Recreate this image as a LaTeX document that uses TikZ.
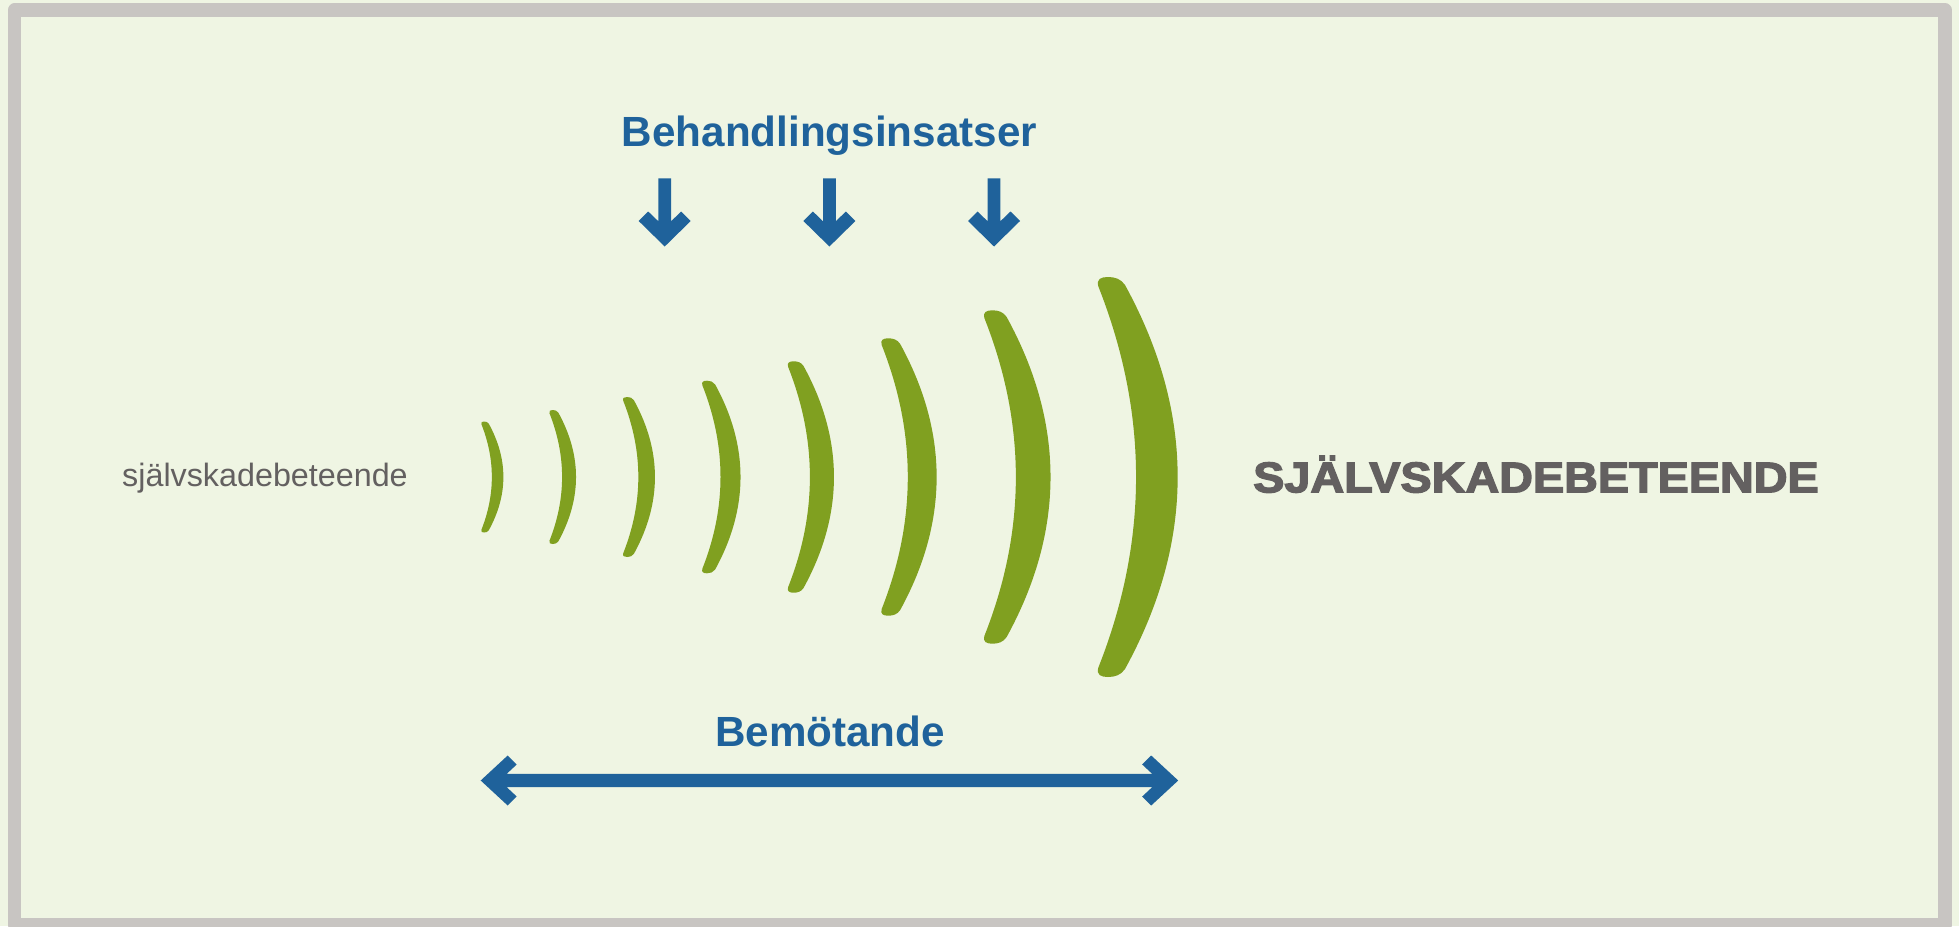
\documentclass[tikz,border=0pt]{standalone}
\usepackage{fontspec}
\setmainfont{Liberation Sans}
\newfontfamily\heavyfont[FakeBold=3]{Liberation Sans Bold}

\definecolor{bgcol}{HTML}{EFF5E3}
\definecolor{framecol}{HTML}{C8C5C2}
\definecolor{arcgreen}{HTML}{80A020}
\definecolor{bluecol}{HTML}{1F629B}
\definecolor{greytext}{HTML}{636060}

\tikzset{
  heading/.style={inner sep=0pt, anchor=base, text=bluecol,
    font=\fontsize{42.2}{50}\selectfont\bfseries},
  quiet/.style={inner sep=0pt, anchor=base, text=greytext,
    font=\fontsize{32.3}{38}\selectfont},
  loud/.style={inner sep=0pt, anchor=base, text=greytext,
    font=\fontsize{42.9}{50}\selectfont\heavyfont},
  wave/.style={fill=arcgreen},
  downarrow/.pic={
    \fill[bluecol] (-6.35,0) -- (6.35,0) -- (6.35,43) -- (16.5,33.2)
      -- (26,42.7) -- (0,68.2) -- (-26,42.7) -- (-16.5,33.2)
      -- (-6.35,43) -- cycle;
  }
}

\begin{document}
\begin{tikzpicture}[x=1pt,y=-1pt]
  \useasboundingbox (0,0) rectangle (1959,926);
  \fill[bgcol] (0,0) rectangle (1959,926);
  \draw[framecol, line width=13.3pt, line join=round] (14.7,10) rectangle (1945,925);

  % growing waves: left edge x and half height h, all centred on y = 477
  \foreach \x/\h in {481/55.5, 549/67, 622.7/80, 701.7/96.3,
                     787.3/115.7, 880.7/138.7, 983.3/166.7, 1097/200} {
    \fill[wave, shift={(\x,477)}, scale=\h]
      (0.14,0.96) .. controls (0.491,0.32) and (0.491,-0.32) .. (0.14,-0.96)
      .. controls (0.12,-0.99) and (0.09,-1.0) .. (0.055,-1.0)
      .. controls (0.02,-1.0) and (-0.005,-0.99) .. (0.007,-0.952)
      .. controls (0.258,-0.317) and (0.258,0.317) .. (0.007,0.952)
      .. controls (-0.005,0.99) and (0.02,1.0) .. (0.055,1.0)
      .. controls (0.09,1.0) and (0.12,0.99) .. (0.14,0.96) -- cycle;
  }

  % labels
  \node[heading] (beh) at (829.5,146.7) {Behandlingsinsatser};
  \node[heading] (bem) at (830,746.7) {Bemötande};
  \node[quiet] (low) at (265,486.7) {självskadebeteende};
  \node[loud] (high) at (1536,492.3) {\scalebox{1.09}[1]{SJÄLVSKADEBETEENDE}};

  % treatment arrows
  \pic (dn1) at (664.7,178.3) {downarrow};
  \pic (dn2) at (829.4,178.3) {downarrow};
  \pic (dn3) at (994,178.3) {downarrow};

  % double arrow under the waves
  \coordinate (bl) at (480.7,780.5);
  \coordinate (br) at (1178.2,780.5);
  \fill[bluecol] (bl) -- ([shift={(27,-25)}]bl) -- ([shift={(36,-16)}]bl)
    -- ([shift={(26,-6.65)}]bl) -- ([shift={(-26,-6.65)}]br)
    -- ([shift={(-36,-16)}]br) -- ([shift={(-27,-25)}]br) -- (br)
    -- ([shift={(-27,25)}]br) -- ([shift={(-36,16)}]br)
    -- ([shift={(-26,6.65)}]br) -- ([shift={(26,6.65)}]bl)
    -- ([shift={(36,16)}]bl) -- ([shift={(27,25)}]bl) -- cycle;
\end{tikzpicture}
\end{document}
